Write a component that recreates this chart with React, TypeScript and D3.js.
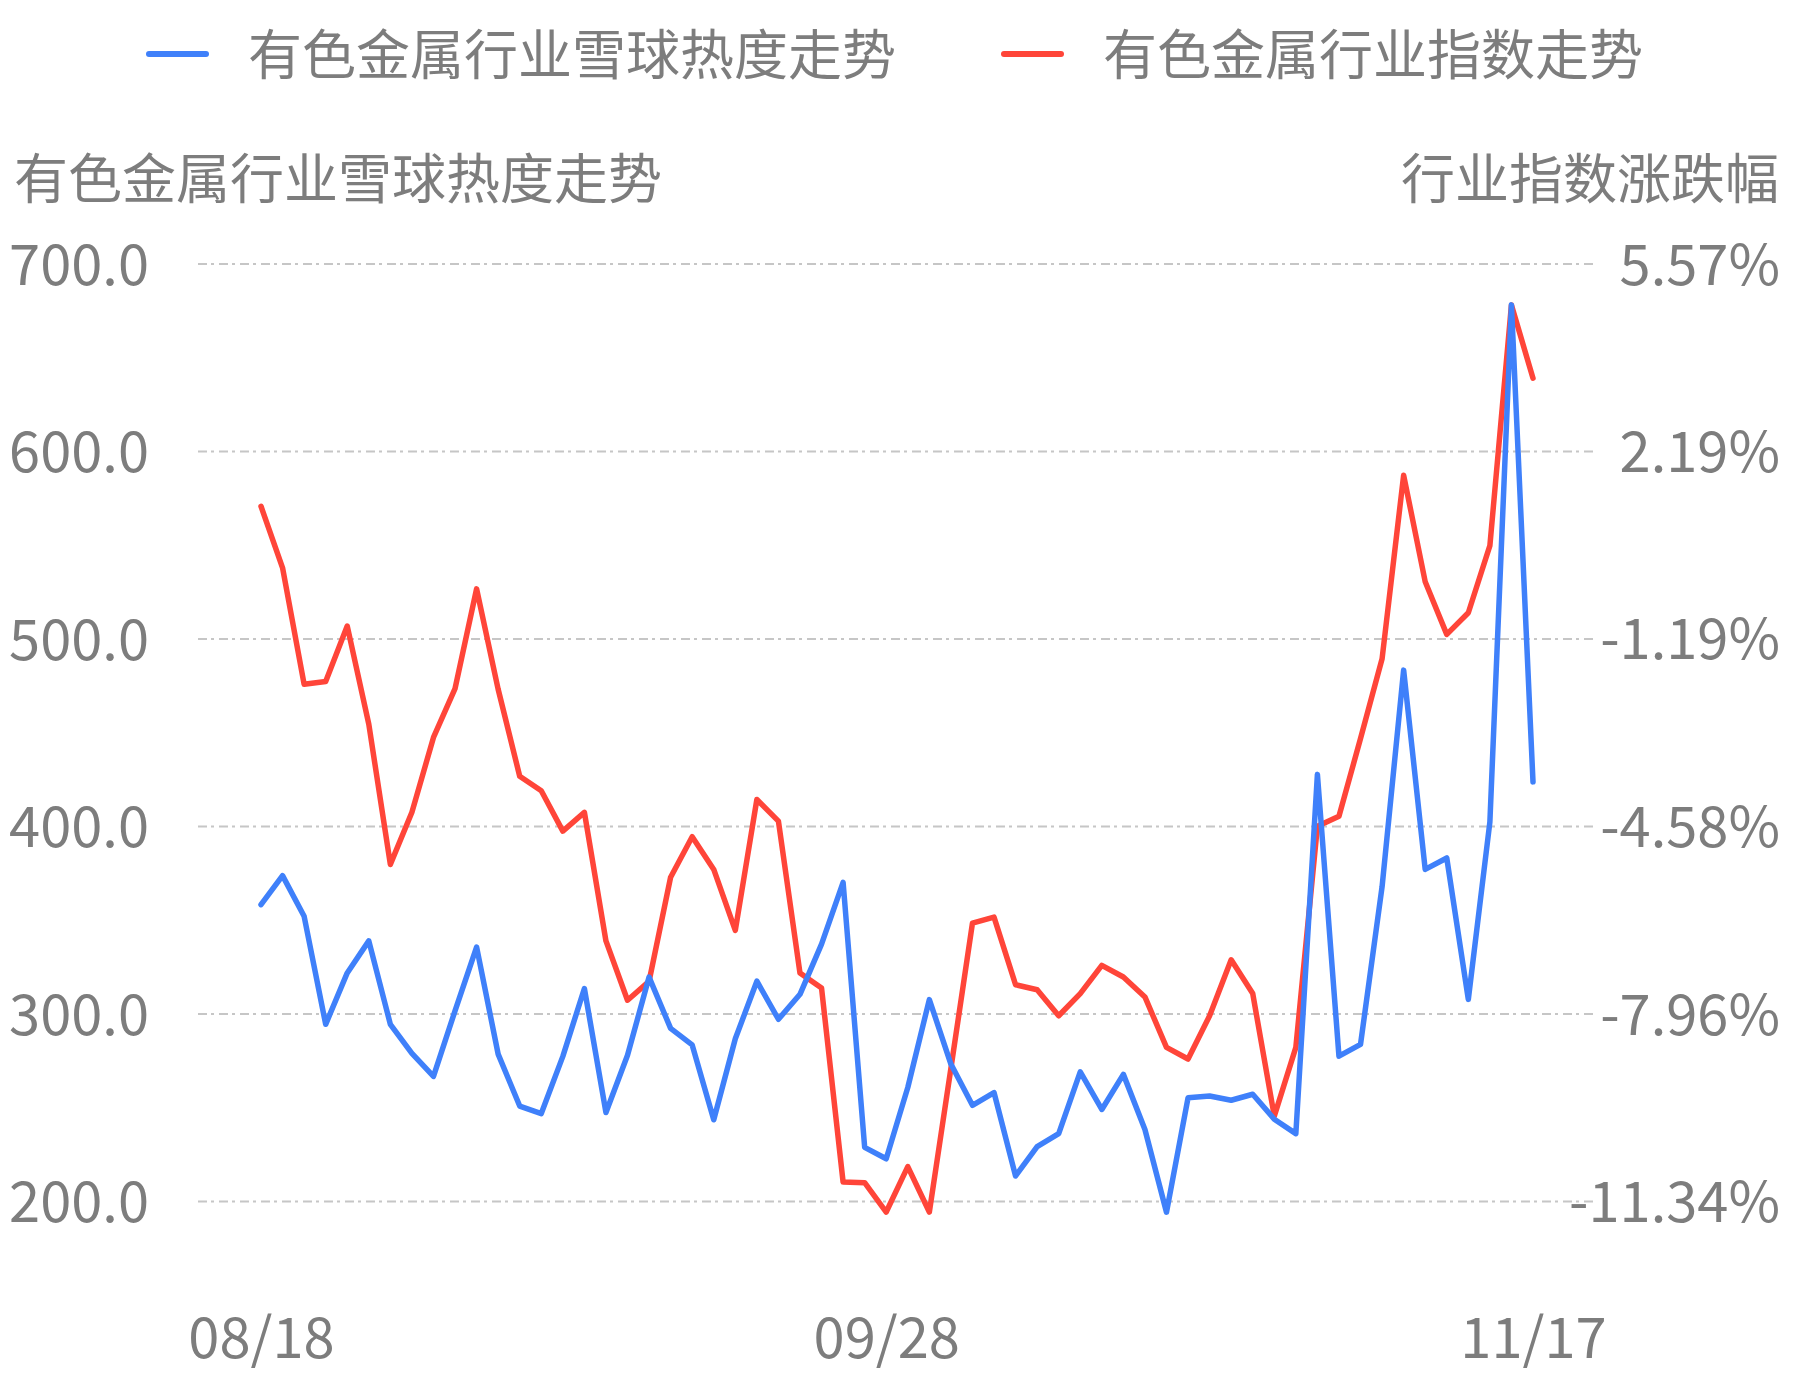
import * as React from "react";
import * as d3 from "d3";

// trading days, 2023
const dates = [
  "08/18", "08/21", "08/22", "08/23", "08/24", "08/25", "08/28", "08/29", "08/30", "08/31",
  "09/01", "09/04", "09/05", "09/06", "09/07", "09/08", "09/11", "09/12", "09/13", "09/14",
  "09/15", "09/18", "09/19", "09/20", "09/21", "09/22", "09/25", "09/26", "09/27", "09/28",
  "10/09", "10/10", "10/11", "10/12", "10/13", "10/16", "10/17", "10/18", "10/19", "10/20",
  "10/23", "10/24", "10/25", "10/26", "10/27", "10/30", "10/31", "11/01", "11/02", "11/03",
  "11/06", "11/07", "11/08", "11/09", "11/10", "11/13", "11/14", "11/15", "11/16", "11/17",
];

// 雪球热度 (left axis)
const heat = [
  358.3, 373.8, 352.1, 294.5, 321.9, 339.0, 294.5, 279.0, 266.7, 301.7,
  335.7, 278.6, 250.9, 246.9, 277.4, 313.6, 247.5, 278.0, 319.7, 292.3,
  283.5, 243.6, 286.8, 317.5, 297.2, 310.5, 337.3, 370.2, 228.9, 222.8,
  260.8, 307.7, 273.3, 251.3, 258.1, 213.6, 229.3, 236.2, 269.1, 249.1,
  267.8, 238.4, 194.3, 255.3, 256.3, 254.0, 257.2, 243.9, 236.2, 427.8,
  277.5, 283.8, 367.9, 483.4, 377.1, 383.2, 307.8, 402.4, 678.2, 423.8,
];

// 指数涨跌幅 % (right axis)
const indexPct = [
  1.20, 0.09, -2.01, -1.96, -0.96, -2.73, -5.26, -4.32, -2.97, -2.09,
  -0.29, -2.10, -3.67, -3.93, -4.66, -4.32, -6.64, -7.71, -7.37, -5.49,
  -4.76, -5.35, -6.45, -4.09, -4.48, -7.22, -7.49, -10.99, -11.00, -11.53,
  -10.71, -11.53, -8.94, -6.32, -6.21, -7.43, -7.52, -7.99, -7.59, -7.08,
  -7.29, -7.65, -8.56, -8.77, -7.99, -6.98, -7.59, -9.80, -8.56, -4.57,
  -4.39, -2.99, -1.55, 1.76, -0.16, -1.11, -0.72, 0.49, 4.83, 3.51,
];

const leftTicks = [200, 300, 400, 500, 600, 700];
const rightTicks = [-11.34, -7.96, -4.58, -1.19, 2.19, 5.57];
const xTickLabels = ["08/18", "09/28", "11/17"];

const seriesNames = ["有色金属行业雪球热度走势", "有色金属行业指数走势"];
const leftTitle = "有色金属行业雪球热度走势";
const rightTitle = "行业指数涨跌幅";

const W = 1793;
const H = 1380;
const FONT = "'Noto Sans CJK SC', 'Noto Sans', sans-serif";
const GREY = "#7d7d7d";
const BLUE = "#3f80fa";
const RED = "#ff4539";

export default function App() {
  const node = React.useRef<SVGSVGElement>(null);

  React.useEffect(() => {
    const svg = d3.select(node.current);
    svg.selectAll("*").remove();

    const x = d3.scalePoint<string>().domain(dates).range([261, 1533]);
    const yL = d3.scaleLinear().domain([200, 700]).range([1201.5, 264]);
    const yR = d3.scaleLinear().domain([-11.34, 5.57]).range([1201.5, 264]);

    // grid
    svg.append("g")
      .selectAll("line")
      .data(leftTicks)
      .join("line")
      .attr("x1", 198)
      .attr("x2", 1597)
      .attr("y1", (d) => yL(d))
      .attr("y2", (d) => yL(d))
      .attr("stroke", "#c6c6c6")
      .attr("stroke-width", 2)
      .attr("stroke-dasharray", "9 4 3 5");

    const styleTicks = (g) => {
      g.select(".domain").remove();
      g.selectAll("text")
        .attr("fill", GREY)
        .attr("font-size", 56)
        .attr("font-family", FONT)
        .attr("dy", "0.36em");
    };

    // left axis
    svg.append("g")
      .attr("transform", "translate(149,0)")
      .call(d3.axisLeft(yL).tickValues(leftTicks).tickFormat(d3.format(".1f")).tickSize(0).tickPadding(0))
      .call(styleTicks);

    // right axis
    svg.append("g")
      .attr("transform", "translate(1780,0)")
      .call(d3.axisLeft(yR).tickValues(rightTicks).tickFormat((d: any) => d.toFixed(2) + "%").tickSize(0).tickPadding(0))
      .call(styleTicks);

    // bottom axis
    svg.append("g")
      .attr("transform", "translate(0,1338)")
      .call(d3.axisBottom(x).tickValues(xTickLabels).tickSize(0).tickPadding(0))
      .call(styleTicks);

    // axis titles
    svg.append("text")
      .attr("x", 14)
      .attr("y", 180)
      .attr("dy", "0.36em")
      .attr("fill", GREY)
      .attr("font-size", 54)
      .attr("font-family", FONT)
      .text(leftTitle);
    svg.append("text")
      .attr("x", 1779)
      .attr("y", 180)
      .attr("dy", "0.36em")
      .attr("text-anchor", "end")
      .attr("fill", GREY)
      .attr("font-size", 54)
      .attr("font-family", FONT)
      .text(rightTitle);

    // lines
    const lineL = d3.line<number>().x((d, i) => x(dates[i])).y((d) => yL(d));
    const lineR = d3.line<number>().x((d, i) => x(dates[i])).y((d) => yR(d));

    svg.append("path")
      .datum(indexPct)
      .attr("fill", "none")
      .attr("stroke", RED)
      .attr("stroke-width", 5.5)
      .attr("stroke-linejoin", "round")
      .attr("stroke-linecap", "round")
      .attr("d", lineR);

    svg.append("path")
      .datum(heat)
      .attr("fill", "none")
      .attr("stroke", BLUE)
      .attr("stroke-width", 5.5)
      .attr("stroke-linejoin", "round")
      .attr("stroke-linecap", "round")
      .attr("d", lineL);

    // legend
    const legendPos = [
      { lx: 149, tx: 248, color: BLUE },
      { lx: 1004, tx: 1103, color: RED },
    ];
    const lg = svg.append("g")
      .selectAll("g")
      .data(seriesNames)
      .join("g");
    lg.append("line")
      .attr("x1", (d, i) => legendPos[i].lx)
      .attr("x2", (d, i) => legendPos[i].lx + 57)
      .attr("y1", 54)
      .attr("y2", 54)
      .attr("stroke", (d, i) => legendPos[i].color)
      .attr("stroke-width", 6)
      .attr("stroke-linecap", "round");
    lg.append("text")
      .attr("x", (d, i) => legendPos[i].tx)
      .attr("y", 56)
      .attr("dy", "0.36em")
      .attr("fill", GREY)
      .attr("font-size", 54)
      .attr("font-family", FONT)
      .text((d) => d);
  }, []);

  return (
    <svg
      ref={node}
      width={W}
      height={H}
      style={{ position: "absolute", left: 0, top: 0, background: "#fff" }}
    />
  );
}
